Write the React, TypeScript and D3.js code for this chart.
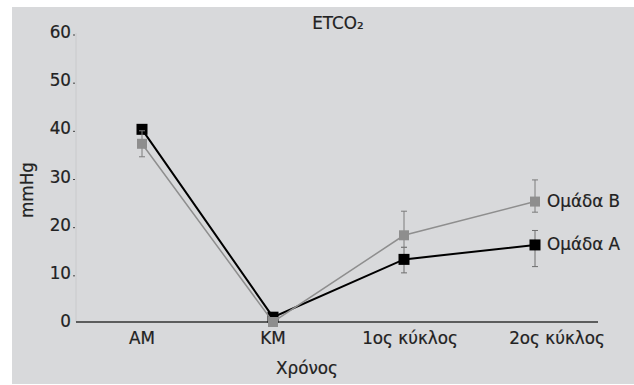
import React from "react";
import * as d3 from "d3";

// categories on the x axis (time points)
const categories = ["AM", "KM", "1ος κύκλος", "2ος κύκλος"];

// mean ETCO2 (mmHg) per group
const groupA = [40, 1, 13, 16];
const groupB = [37, 0, 18, 25];

// error bar ends [low, high] (null = not visible)
const errA: ([number, number] | null)[] = [null, null, [10.2, 15.5], [11.5, 19]];
const errB: ([number, number] | null)[] = [[34.3, 39.7], null, [15.5, 23], [22.8, 29.5]];

const yTicks = [0, 10, 20, 30, 40, 50, 60];
const seriesNames = ["Ομάδα A", "Ομάδα B"];

const W = 634;
const H = 385;
const FONT = "DejaVu Sans, Verdana, sans-serif";
const FS = 16.8;
const labelNudge = [0, 0, 6, 22];

const App = () => {
  const x = d3.scalePoint<string>().domain(categories).range([142, 535]);
  const y = d3.scaleLinear().domain([0, 60]).range([322, 33]);

  const line = d3
    .line<number>()
    .x((_, i) => x(categories[i]) as number)
    .y((d) => y(d));

  const series = [
    { name: seriesNames[0], values: groupA, err: errA, color: "#000000", errColor: "#6e6e6e", width: 2, size: 11 },
    { name: seriesNames[1], values: groupB, err: errB, color: "#8e8e8e", errColor: "#7c7c7c", width: 1.5, size: 10 },
  ];

  const txt = { fontSize: FS, fill: "#222", stroke: "#222", strokeWidth: 0.2 };

  return (
    <svg
      width={W}
      height={H}
      style={{ position: "absolute", left: 0, top: 0, background: "#ffffff" }}
      fontFamily={FONT}
    >
      <rect x={12} y={7} width={W - 12} height={H - 8} fill="#d8d9db" />

      {/* title */}
      <text x={338} y={24} textAnchor="middle" dominantBaseline="middle" {...txt}>
        ETCO₂
      </text>

      {/* faint y axis line */}
      <line x1={76} x2={76} y1={y(60)} y2={y(0)} stroke="#c9cacc" strokeWidth={1} />

      {/* y ticks */}
      {yTicks.map((t) => (
        <g key={t}>
          <text x={71} y={y(t)} textAnchor="end" dominantBaseline="middle" {...txt}>
            {t}
          </text>
          {t !== 0 && <line x1={73} x2={75} y1={y(t) + 2} y2={y(t) + 2} stroke="#444" strokeWidth={1} />}
        </g>
      ))}

      {/* x axis baseline */}
      <line x1={76} x2={598} y1={y(0)} y2={y(0)} stroke="#333" strokeWidth={1.5} />

      {/* x labels */}
      {categories.map((c, i) => (
        <text
          key={c}
          x={(x(c) as number) + labelNudge[i]}
          y={y(0) + 17}
          textAnchor="middle"
          dominantBaseline="middle"
          {...txt}
        >
          {c}
        </text>
      ))}

      <text x={28} y={190} transform="rotate(-90 28 190)" textAnchor="middle" dominantBaseline="middle" {...txt}>
        mmHg
      </text>
      <text x={307} y={369} textAnchor="middle" dominantBaseline="middle" {...txt}>
        Χρόνος
      </text>

      {series.map((s) => (
        <g key={s.name}>
          {s.err.map((e, i) =>
            e ? (
              <g key={i} stroke={s.errColor} strokeWidth={1}>
                <line x1={x(categories[i])} x2={x(categories[i])} y1={y(e[0])} y2={y(e[1])} />
                <line x1={(x(categories[i]) as number) - 3} x2={(x(categories[i]) as number) + 3} y1={y(e[0])} y2={y(e[0])} />
                <line x1={(x(categories[i]) as number) - 3} x2={(x(categories[i]) as number) + 3} y1={y(e[1])} y2={y(e[1])} />
              </g>
            ) : null
          )}
          <path d={line(s.values) as string} fill="none" stroke={s.color} strokeWidth={s.width} />
          {s.values.map((v, i) => (
            <rect
              key={i}
              x={(x(categories[i]) as number) - s.size / 2}
              y={y(v) - s.size / 2}
              width={s.size}
              height={s.size}
              fill={s.color}
            />
          ))}
          <text x={(x(categories[3]) as number) + 12} y={y(s.values[3])} dominantBaseline="middle" {...txt}>
            {s.name}
          </text>
        </g>
      ))}
    </svg>
  );
};

export default App;
